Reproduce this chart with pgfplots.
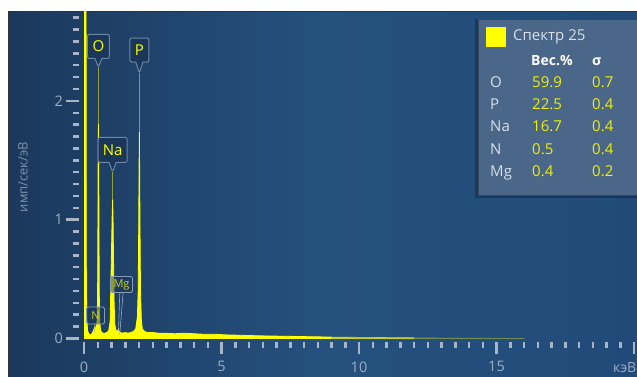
\documentclass[border=0pt]{standalone}
\usepackage{pgfplots}
\pgfplotsset{compat=1.18}
\usepackage{fontspec}
\setmainfont{Open Sans}
\usetikzlibrary{shapes.callouts}
\definecolor{bgL}{HTML}{1B385C}
\definecolor{bgM}{HTML}{25517E}
\definecolor{bgR}{HTML}{214A78}
\definecolor{tickc}{HTML}{A8B5C6}
\definecolor{labc}{HTML}{9DAEC3}
\definecolor{axlab}{HTML}{7D92AC}
\definecolor{specY}{HTML}{FFFF00}
\definecolor{mline}{HTML}{8FA03A}
\definecolor{boxfill}{HTML}{1A375A}
\definecolor{boxdraw}{HTML}{6C86A6}
\definecolor{legfill}{HTML}{4A6688}
\definecolor{legtxt}{HTML}{D8DFE7}
\definecolor{legval}{HTML}{EEEE10}
\pgfplotstableread{
E c
0.000 0.00
0.010 4.00
0.070 4.00
0.085 0.60
0.100 0.18
0.130 0.07
0.170 0.04
0.220 0.03
0.270 0.035
0.310 0.05
0.350 0.07
0.380 0.09
0.400 0.10
0.420 0.08
0.450 0.09
0.480 0.16
0.495 0.40
0.505 0.90
0.515 1.50
0.525 1.81
0.535 1.50
0.545 0.90
0.555 0.40
0.570 0.15
0.600 0.07
0.650 0.05
0.700 0.045
0.750 0.04
0.800 0.05
0.850 0.05
0.900 0.07
0.950 0.14
0.985 0.55
1.005 0.80
1.025 1.05
1.041 1.17
1.057 1.00
1.075 0.65
1.095 0.30
1.120 0.12
1.160 0.07
1.200 0.06
1.230 0.07
1.254 0.08
1.280 0.06
1.320 0.05
1.400 0.045
1.500 0.05
1.600 0.045
1.700 0.05
1.800 0.06
1.880 0.08
1.940 0.18
1.970 0.40
1.990 0.95
2.003 1.45
2.013 1.74
2.023 1.45
2.036 0.95
2.055 0.40
2.085 0.16
2.120 0.08
2.200 0.06
2.300 0.05
2.500 0.05
2.700 0.045
3.000 0.045
3.300 0.04
3.600 0.045
4.000 0.04
4.400 0.035
4.800 0.035
5.200 0.03
5.600 0.028
6.000 0.025
6.500 0.022
7.000 0.02
7.500 0.018
8.000 0.016
8.500 0.014
9.000 0.012
}\spectrum
\pgfplotstableread{
E c
9.000 0.012
9.500 0.011
10.000 0.010
10.500 0.009
11.000 0.008
11.500 0.007
12.000 0.006
}\tailA
\pgfplotstableread{
E c
12.000 0.006
12.500 0.005
13.000 0.004
13.500 0.003
14.000 0.003
15.000 0.002
16.000 0.002
}\tailB
\begin{document}
\begin{tikzpicture}[x=1pt,y=1pt]
\path[use as bounding box, clip] (0,0) rectangle (637,376);
\fill[white] (0,0) rectangle (637,376);
\shade[left color=bgL, right color=bgR, middle color=bgM] (8,0) rectangle (637,365);
\draw[black!80, line width=1pt] (8.5,0) -- (8.5,364.5) -- (637,364.5);
\begin{axis}[
  at={(84pt,37.5pt)}, anchor=south west,
  scale only axis, width=553pt, height=326.5pt,
  xmin=0, xmax=20.109, ymin=0, ymax=2.748,
  axis line style={draw=none},
  xtick pos=bottom, ytick pos=left,
  tick align=outside,
  xtick={0,5,10,15,20}, xticklabels={0,5,10,15,{}},
  ytick={0,1,2},
  minor xtick={0,0.5,...,20},
  minor ytick={0,0.1,...,2.71},
  major tick length=12.5pt, minor tick length=6pt,
  tick style={draw=tickc, line width=2.5pt},
  every x tick/.append style={yshift=-3pt},
  every y tick/.append style={xshift=-5pt},
  tick label style={font=\fontsize{14.5}{16}\selectfont, text=labc},
  /pgf/number format/assume math mode=true,
  xticklabel style={yshift=-7pt},
  yticklabel style={xshift=-5pt},
  clip=true,
]
\addplot[draw=specY, fill=specY, line width=0.8pt] table[x=E, y=c] {\spectrum} \closedcycle;
\addplot[draw=specY!75!bgM, fill=specY!75!bgM, line width=0.6pt] table[x=E, y=c] {\tailA} \closedcycle;
\addplot[draw=specY!35!bgM, fill=specY!35!bgM, line width=0.5pt] table[x=E, y=c] {\tailB} \closedcycle;
% peak marker lines
\draw[mline, line width=1pt] (axis cs:0.525,2.285) -- (axis cs:0.525,1.81);
\draw[mline, line width=1pt] (axis cs:2.013,2.235) -- (axis cs:2.013,1.74);
\draw[mline, line width=1pt] (axis cs:1.041,1.402) -- (axis cs:1.041,1.17);
\draw[boxdraw!70, line width=0.6pt] (axis cs:1.30,0.38) -- (axis cs:1.254,0.06);
\draw[boxdraw!70, line width=0.6pt] (axis cs:1.42,0.38) -- (axis cs:1.30,0.03);
\draw[boxdraw!70, line width=0.6pt] (axis cs:0.40,0.13) -- (axis cs:0.392,0.05);
% callouts
\node[rectangle callout, callout absolute pointer={(axis cs:0.525,2.285)}, fill=boxfill, draw=boxdraw, line width=1pt, rounded corners=2pt, minimum width=22pt, minimum height=24pt, inner sep=1pt, text=specY, font=\fontsize{15}{16}\selectfont] at (axis cs:0.527,2.458) {O};
\node[rectangle callout, callout absolute pointer={(axis cs:2.013,2.235)}, fill=boxfill, draw=boxdraw, line width=1pt, rounded corners=2pt, minimum width=19pt, minimum height=24pt, inner sep=1pt, text=specY, font=\fontsize{15}{16}\selectfont] at (axis cs:2.013,2.428) {P};
\node[rectangle callout, callout absolute pointer={(axis cs:1.041,1.402)}, fill=boxfill, draw=boxdraw, line width=1pt, rounded corners=2pt, minimum width=29pt, minimum height=25pt, inner sep=1pt, text=specY, font=\fontsize{15}{16}\selectfont] at (axis cs:1.041,1.587) {Na};
\node[fill=boxfill, fill opacity=0.5, text opacity=0.85, draw=boxdraw!80, line width=0.8pt, rounded corners=1.5pt, minimum width=22pt, minimum height=16pt, inner sep=1pt, text=specY!85!gray, font=\fontsize{11}{12}\selectfont] at (axis cs:1.364,0.455) {Mg};
\node[fill=boxfill, fill opacity=0.5, text opacity=0.85, draw=boxdraw!80, line width=0.8pt, rounded corners=1.5pt, minimum width=18pt, minimum height=17pt, inner sep=1pt, text=specY!85!gray, font=\fontsize{11}{12}\selectfont] at (axis cs:0.418,0.194) {N};
\end{axis}
% axis titles
\node[rotate=90, text=axlab, font=\fontsize{13}{14}\selectfont] at (23,199) {имп/сек/эВ};
\node[anchor=east, text=labc, font=\fontsize{14}{16}\selectfont, inner sep=0pt] at (636.5,8) {кэВ};
% legend panel
\fill[black, opacity=0.25] (475,178) rectangle (637,357);
\fill[legfill] (478,181) rectangle (637,357);
\draw[legfill!70!black, line width=0.6pt] (478,181) rectangle (640,357);
\fill[specY] (486,329) rectangle (506,349);
\node[anchor=mid west, inner sep=0pt, text=legtxt, font=\fontsize{15}{17}\selectfont] at (513,338) {Спектр 25};
\node[anchor=mid west, inner sep=0pt, text=white, font=\fontsize{14}{16}\selectfont\bfseries] at (531,313) {Вес.\%};
\node[anchor=mid west, inner sep=0pt, text=white, font=\fontsize{14}{16}\selectfont\bfseries] at (592,313) {σ};
\foreach \el/\w/\s/\yy in {O/59.9/0.7/291, P/22.5/0.4/269, Na/16.7/0.4/247, N/0.5/0.4/224, Mg/0.4/0.2/202}{
  \node[anchor=mid west, inner sep=0pt, text=legtxt, font=\fontsize{15}{17}\selectfont] at (490,\yy) {\el};
  \node[anchor=mid west, inner sep=0pt, text=legval, font=\fontsize{15}{17}\selectfont] at (532,\yy) {\w};
  \node[anchor=mid west, inner sep=0pt, text=legval, font=\fontsize{15}{17}\selectfont] at (592,\yy) {\s};
}
\end{tikzpicture}
\end{document}
